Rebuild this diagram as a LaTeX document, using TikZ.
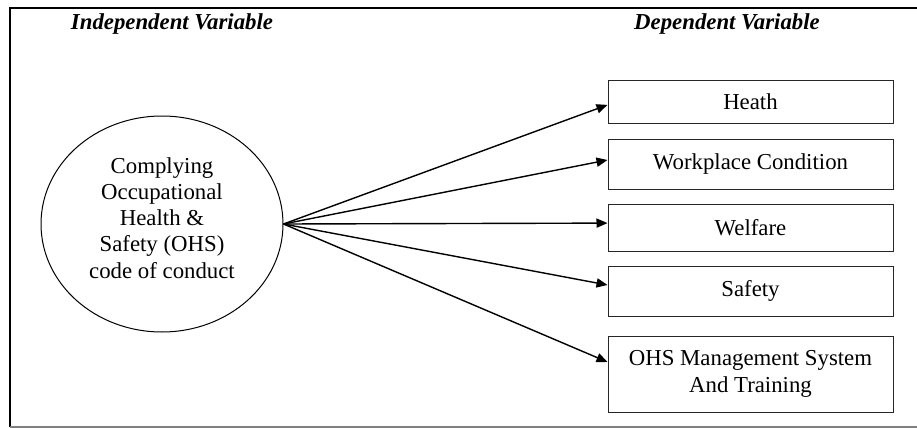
\documentclass[tikz,border=0pt]{standalone}
\usepackage{fontspec}
\setmainfont{Liberation Serif}
\usetikzlibrary{arrows.meta,shapes.geometric}

\begin{document}
\begin{tikzpicture}[x=0.5pt,y=-0.5pt,
    dvbox/.style={draw=black!85, line width=0.5pt, minimum width=142.5pt, inner sep=0pt, align=center, font=\fontsize{11.4}{13.5}\selectfont},
    head/.style={font=\fontsize{11.4}{13.5}\selectfont\bfseries\itshape, anchor=base},
    link/.style={-{Triangle[length=5.5pt,width=4.6pt]}, line width=0.7pt}]
    \useasboundingbox (0,0) rectangle (917,428);
    % frame
    \draw[line width=1.2pt] (10,427) -- (10,8) -- (917,8);
    \draw[gray, line width=0.6pt] (10,427) -- (917,427);
    % headings
    \node[head] (indep) at (172,30) {Independent Variable};
    \node[head] (dep) at (727,30) {Dependent Variable};
    % independent variable
    \node[ellipse, draw, line width=0.5pt, inner sep=0pt, minimum width=121pt, minimum height=108pt] (ohs) at (162,224) {};
    \node[align=center, font=\fontsize{11.4}{13.1}\selectfont] (ohstext) at ([yshift=3.1pt]ohs.center)
         {Complying\\Occupational\\Health \&\\Safety (OHS)\\code of conduct};
    % dependent variables
    \node[dvbox, minimum height=21.5pt] (heath) at (750.5,101.5) {Heath};
    \node[dvbox, minimum height=25pt] (work) at (750.5,164) {Workplace Condition};
    \node[dvbox, minimum height=23.5pt] (welf) at (750.5,227.5) {Welfare};
    \node[dvbox, minimum height=25pt] (safe) at (750.5,291) {Safety};
    \node[dvbox, minimum height=38pt] (mgmt) at (750.5,374) {OHS Management System\\And Training};
    % links
    \draw[link] (ohs.east) -- ([yshift=-1.7pt]heath.west);
    \draw[link] (ohs.east) -- ([yshift=2pt]work.west);
    \draw[link] (ohs.east) -- ([yshift=2.2pt]welf.west);
    \draw[link] (ohs.east) -- ([yshift=3pt]safe.west);
    \draw[link] (ohs.east) -- ([yshift=6pt]mgmt.west);
\end{tikzpicture}
\end{document}
